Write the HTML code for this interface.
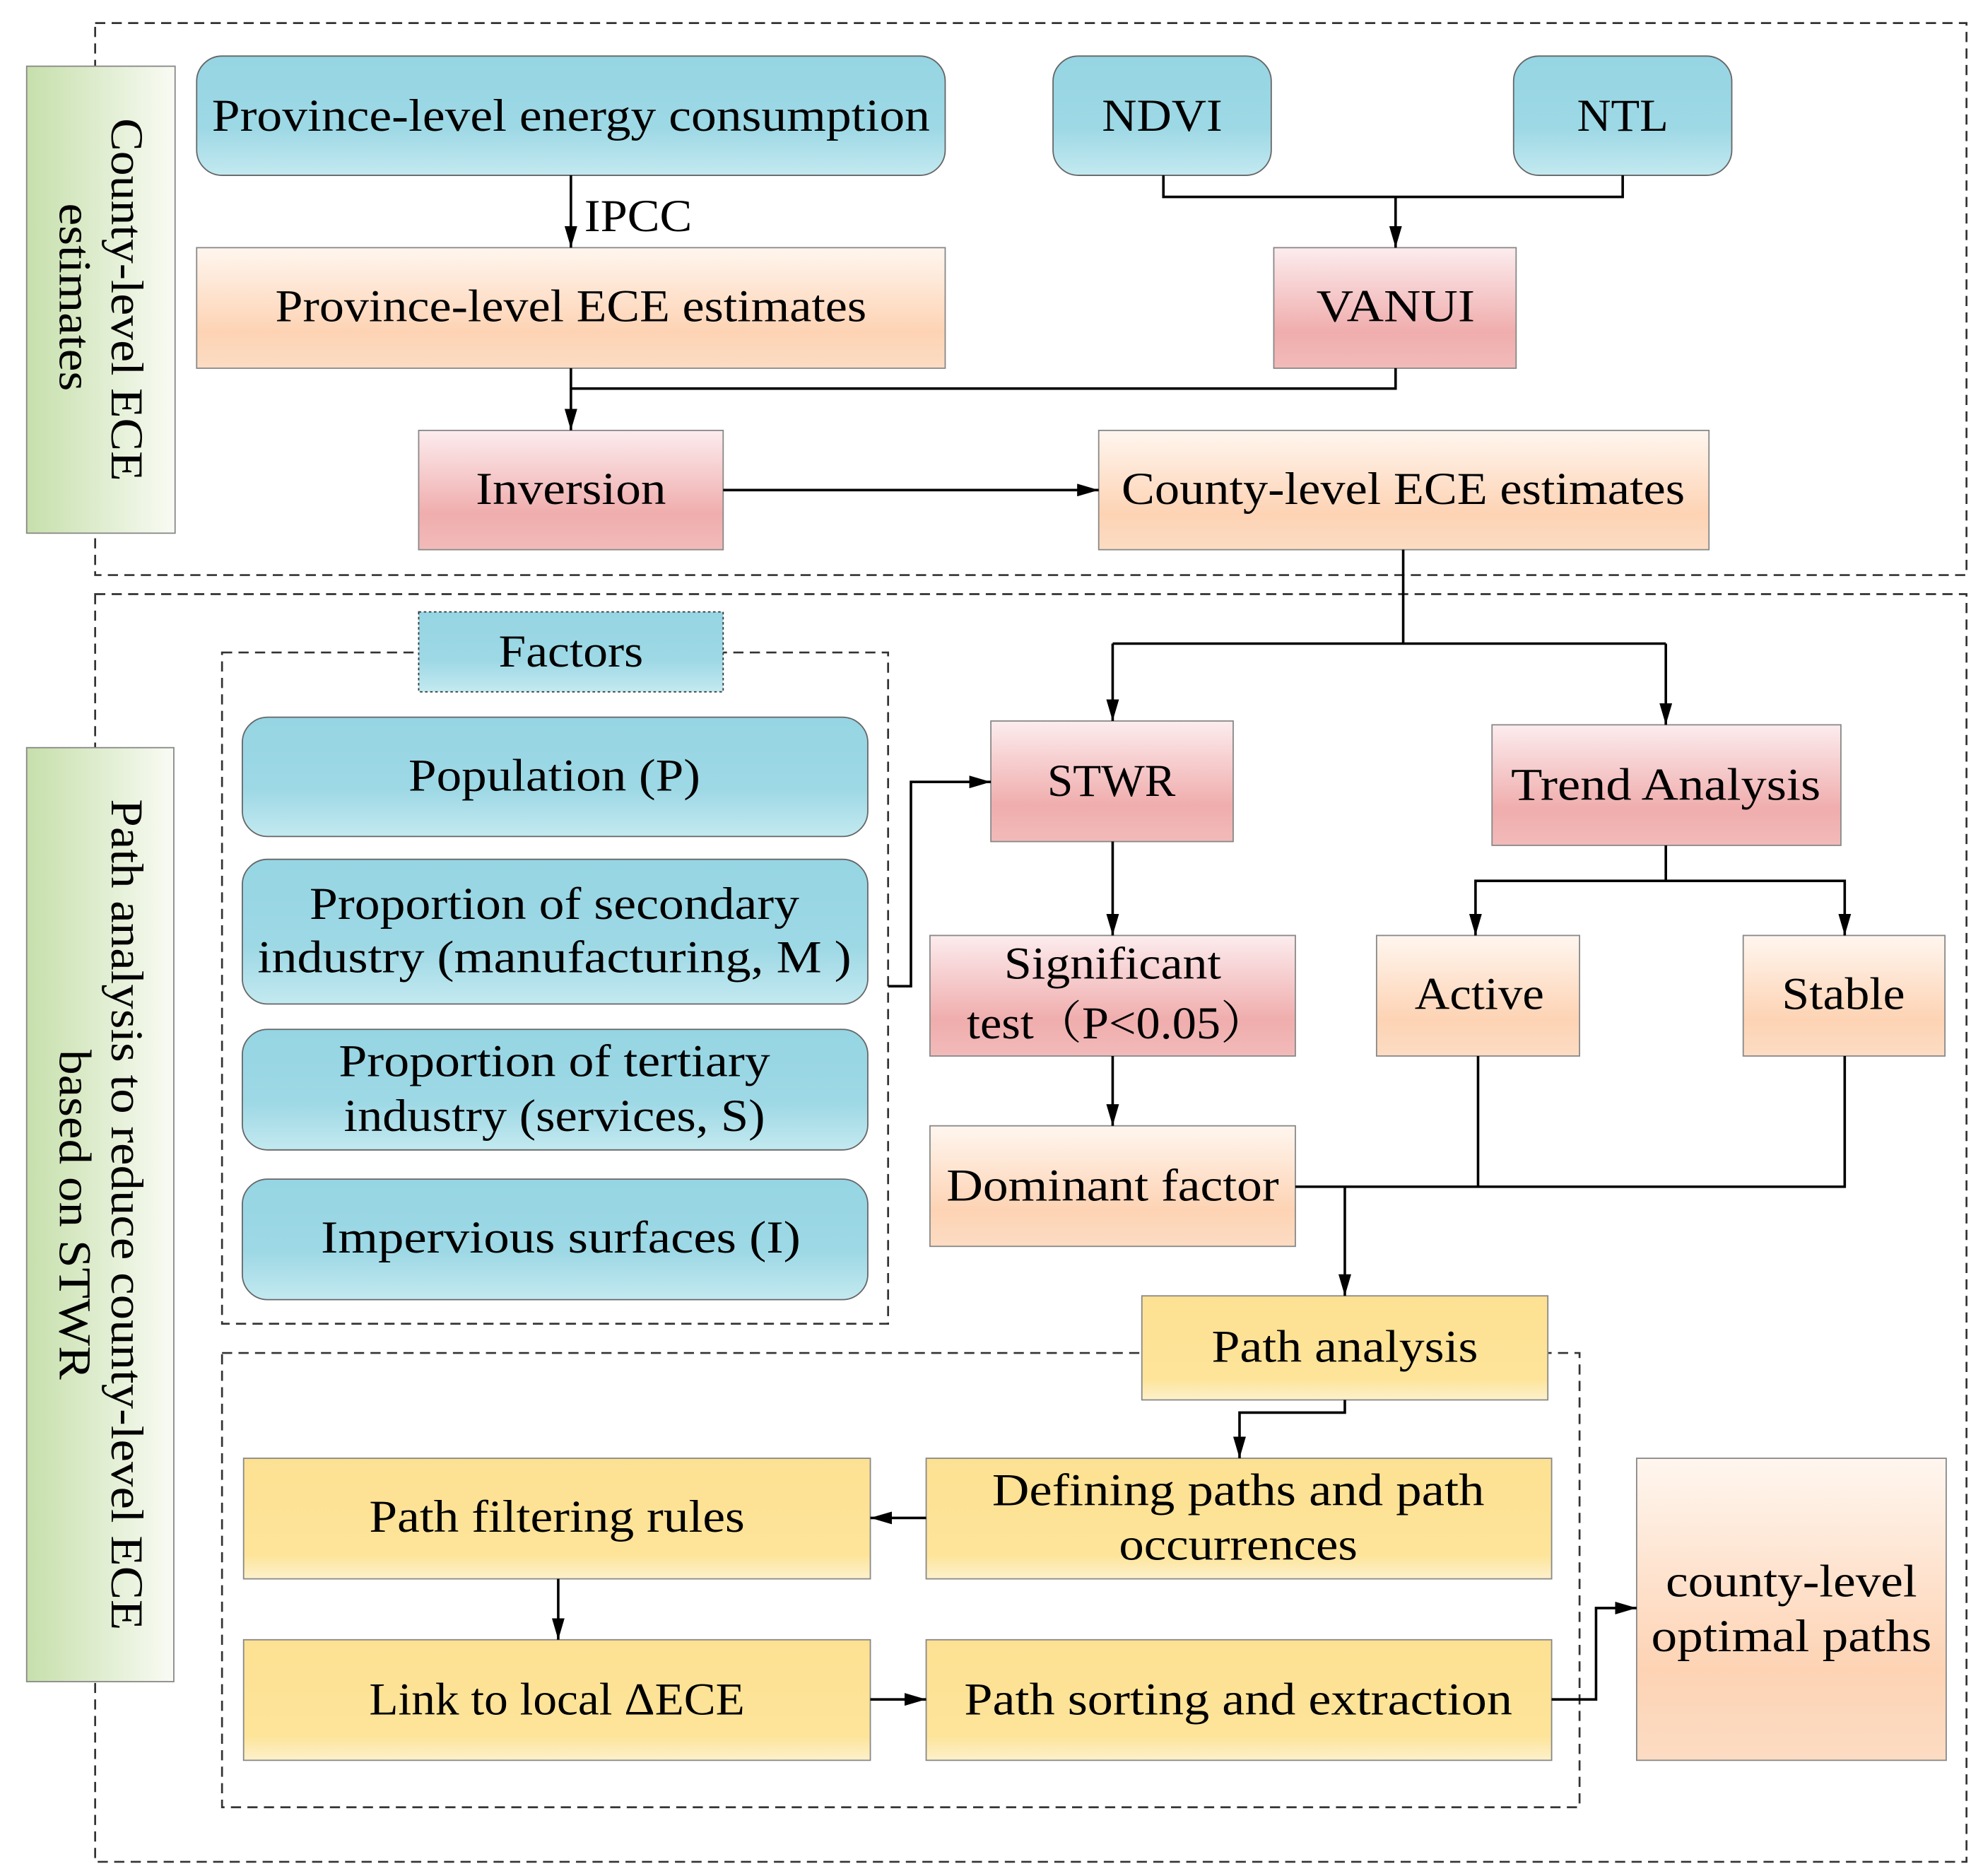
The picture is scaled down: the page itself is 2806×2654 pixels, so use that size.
<!DOCTYPE html>
<html><head><meta charset="utf-8"><style>html,body{margin:0;padding:0;background:#fff}svg{display:block}</style></head>
<body>
<svg xmlns="http://www.w3.org/2000/svg" width="2806" height="2654" viewBox="0 0 1563 1478" font-family="'Liberation Serif', 'Noto Serif CJK SC', serif" font-size="36">
<defs>
<linearGradient id="bl" x1="0" y1="0" x2="0" y2="1"><stop offset="0" stop-color="#96d5e3"/><stop offset="0.6" stop-color="#9dd8e5"/><stop offset="1" stop-color="#c3e9f0"/></linearGradient>
<linearGradient id="or" x1="0" y1="0" x2="0" y2="1"><stop offset="0" stop-color="#fff6ef"/><stop offset="0.7" stop-color="#fdd3b4"/><stop offset="1" stop-color="#fcdcc3"/></linearGradient>
<linearGradient id="pk" x1="0" y1="0" x2="0" y2="1"><stop offset="0" stop-color="#fcecee"/><stop offset="0.7" stop-color="#f0adad"/><stop offset="1" stop-color="#f2baba"/></linearGradient>
<linearGradient id="ye" x1="0" y1="0" x2="0" y2="1"><stop offset="0" stop-color="#fde193"/><stop offset="0.8" stop-color="#fde499"/><stop offset="1" stop-color="#fdf1cc"/></linearGradient>
<linearGradient id="gr" x1="0" y1="0" x2="1" y2="0"><stop offset="0" stop-color="#c6dfab"/><stop offset="1" stop-color="#f9fbf4"/></linearGradient>
<marker id="a" markerWidth="17" markerHeight="10" refX="17" refY="5" orient="auto" markerUnits="userSpaceOnUse"><path d="M0,0 L17,5 L0,10 z" fill="#000"/></marker>
</defs>
<g fill="none" stroke="#333" stroke-width="1.5" stroke-dasharray="8,5">
<rect x="75" y="18" width="1475" height="435"/>
<rect x="75" y="468" width="1475" height="999"/>
<rect x="175" y="514" width="525" height="529"/>
<rect x="175" y="1066" width="1070" height="358"/>
</g>
<g stroke="#888" stroke-width="1">
<rect x="21" y="52" width="117" height="368" fill="url(#gr)"/>
<rect x="21" y="589" width="116" height="736" fill="url(#gr)"/>
<rect x="155" y="44" width="590" height="94" rx="20" fill="url(#bl)" stroke="#666"/>
<rect x="830" y="44" width="172" height="94" rx="20" fill="url(#bl)" stroke="#666"/>
<rect x="1193" y="44" width="172" height="94" rx="20" fill="url(#bl)" stroke="#666"/>
<rect x="155" y="195" width="590" height="95" fill="url(#or)"/>
<rect x="1004" y="195" width="191" height="95" fill="url(#pk)"/>
<rect x="330" y="339" width="240" height="94" fill="url(#pk)"/>
<rect x="866" y="339" width="481" height="94" fill="url(#or)"/>
<rect x="330" y="482" width="240" height="63" fill="url(#bl)" stroke="#333" stroke-dasharray="2,2"/>
<rect x="191" y="565" width="493" height="94" rx="20" fill="url(#bl)" stroke="#666"/>
<rect x="191" y="677" width="493" height="114" rx="20" fill="url(#bl)" stroke="#666"/>
<rect x="191" y="811" width="493" height="95" rx="20" fill="url(#bl)" stroke="#666"/>
<rect x="191" y="929" width="493" height="95" rx="20" fill="url(#bl)" stroke="#666"/>
<rect x="781" y="568" width="191" height="95" fill="url(#pk)"/>
<rect x="1176" y="571" width="275" height="95" fill="url(#pk)"/>
<rect x="733" y="737" width="288" height="95" fill="url(#pk)"/>
<rect x="1085" y="737" width="160" height="95" fill="url(#or)"/>
<rect x="1374" y="737" width="159" height="95" fill="url(#or)"/>
<rect x="733" y="887" width="288" height="95" fill="url(#or)"/>
<rect x="900" y="1021" width="320" height="82" fill="url(#ye)"/>
<rect x="730" y="1149" width="493" height="95" fill="url(#ye)"/>
<rect x="192" y="1149" width="494" height="95" fill="url(#ye)"/>
<rect x="192" y="1292" width="494" height="95" fill="url(#ye)"/>
<rect x="730" y="1292" width="493" height="95" fill="url(#ye)"/>
<rect x="1290" y="1149" width="244" height="238" fill="url(#or)"/>
</g>
<g fill="none" stroke="#000" stroke-width="2">
<path d="M450 138 V195" marker-end="url(#a)"/>
<path d="M917 138 V155 H1279 V138"/>
<path d="M1100 155 V195" marker-end="url(#a)"/>
<path d="M1100 290 V306 H450"/>
<path d="M450 290 V339" marker-end="url(#a)"/>
<path d="M570 386 H866" marker-end="url(#a)"/>
<path d="M1106 433 V507"/>
<path d="M877 507 H1313"/>
<path d="M877 507 V568" marker-end="url(#a)"/>
<path d="M1313 507 V571" marker-end="url(#a)"/>
<path d="M700 777 H718 V616 H781" marker-end="url(#a)"/>
<path d="M877 663 V737" marker-end="url(#a)"/>
<path d="M877 832 V887" marker-end="url(#a)"/>
<path d="M1313 666 V694 H1163 V737" marker-end="url(#a)"/>
<path d="M1313 694 H1454 V737" marker-end="url(#a)"/>
<path d="M1021 935 H1454 V832"/>
<path d="M1165 832 V935"/>
<path d="M1060 935 V1021" marker-end="url(#a)"/>
<path d="M1060 1103 V1113 H977 V1149" marker-end="url(#a)"/>
<path d="M730 1196 H686" marker-end="url(#a)"/>
<path d="M440 1244 V1292" marker-end="url(#a)"/>
<path d="M686 1339 H730" marker-end="url(#a)"/>
<path d="M1223 1339 H1258 V1267 H1290" marker-end="url(#a)"/>
</g>
<g fill="#000" text-anchor="middle" lengthAdjust="spacingAndGlyphs">
<text x="450" y="103" textLength="566" lengthAdjust="spacingAndGlyphs">Province-level energy consumption</text>
<text x="503" y="182" textLength="85" lengthAdjust="spacingAndGlyphs">IPCC</text>
<text x="916" y="103" textLength="95" lengthAdjust="spacingAndGlyphs">NDVI</text>
<text x="1279" y="103" textLength="72" lengthAdjust="spacingAndGlyphs">NTL</text>
<text x="450" y="253" textLength="466" lengthAdjust="spacingAndGlyphs">Province-level ECE estimates</text>
<text x="1100" y="253" textLength="125" lengthAdjust="spacingAndGlyphs">VANUI</text>
<text x="450" y="397" textLength="150" lengthAdjust="spacingAndGlyphs">Inversion</text>
<text x="1106" y="397" textLength="444" lengthAdjust="spacingAndGlyphs">County-level ECE estimates</text>
<text x="450" y="525" textLength="114" lengthAdjust="spacingAndGlyphs">Factors</text>
<text x="437" y="623" textLength="230" lengthAdjust="spacingAndGlyphs">Population (P)</text>
<text x="437" y="724" textLength="386" lengthAdjust="spacingAndGlyphs">Proportion of secondary</text>
<text x="437" y="766" textLength="468" lengthAdjust="spacingAndGlyphs">industry (manufacturing, M )</text>
<text x="437" y="848" textLength="340" lengthAdjust="spacingAndGlyphs">Proportion of tertiary</text>
<text x="437" y="891" textLength="332" lengthAdjust="spacingAndGlyphs">industry (services, S)</text>
<text x="442" y="987" textLength="378" lengthAdjust="spacingAndGlyphs">Impervious surfaces  (I)</text>
<text x="876" y="627" textLength="101" lengthAdjust="spacingAndGlyphs">STWR</text>
<text x="1313" y="630" textLength="244" lengthAdjust="spacingAndGlyphs">Trend Analysis</text>
<text x="877" y="771" textLength="171" lengthAdjust="spacingAndGlyphs">Significant</text>
<text x="881" y="818" textLength="238" lengthAdjust="spacingAndGlyphs">test（P&lt;0.05）</text>
<text x="1166" y="795" textLength="102" lengthAdjust="spacingAndGlyphs">Active</text>
<text x="1453" y="795" textLength="97" lengthAdjust="spacingAndGlyphs">Stable</text>
<text x="877" y="946" textLength="262" lengthAdjust="spacingAndGlyphs">Dominant factor</text>
<text x="1060" y="1073" textLength="210" lengthAdjust="spacingAndGlyphs">Path analysis</text>
<text x="976" y="1186" textLength="388" lengthAdjust="spacingAndGlyphs">Defining paths and path</text>
<text x="976" y="1229" textLength="188" lengthAdjust="spacingAndGlyphs">occurrences</text>
<text x="439" y="1207" textLength="296" lengthAdjust="spacingAndGlyphs">Path filtering rules</text>
<text x="439" y="1351" textLength="296" lengthAdjust="spacingAndGlyphs">Link to local ΔECE</text>
<text x="976" y="1351" textLength="432" lengthAdjust="spacingAndGlyphs">Path sorting and extraction</text>
<text x="1412" y="1258" textLength="198" lengthAdjust="spacingAndGlyphs">county-level</text>
<text x="1412" y="1301" textLength="221" lengthAdjust="spacingAndGlyphs">optimal paths</text>
<g transform="translate(88,236) rotate(90)"><text x="0" y="0" textLength="286" lengthAdjust="spacingAndGlyphs">County-level ECE</text></g>
<g transform="translate(47,234) rotate(90)"><text x="0" y="0" textLength="148" lengthAdjust="spacingAndGlyphs">estimates</text></g>
<g transform="translate(88,957) rotate(90)"><text x="0" y="0" textLength="655" lengthAdjust="spacingAndGlyphs">Path analysis to reduce county-level ECE</text></g>
<g transform="translate(47,957) rotate(90)"><text x="0" y="0" textLength="260" lengthAdjust="spacingAndGlyphs">based on  STWR</text></g>
</g>
</svg>
</body></html>
